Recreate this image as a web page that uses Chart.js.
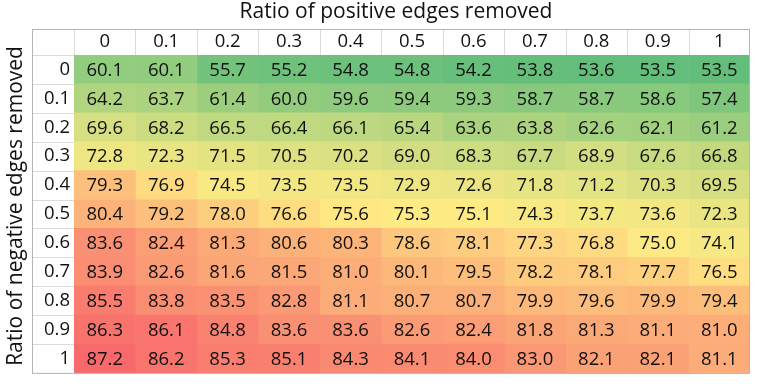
<!DOCTYPE html>
<html>
<head>
<meta charset="utf-8">
<script src="https://cdn.jsdelivr.net/npm/chart.js@4"></script>
<style>
  body { margin: 0; background: #fff; }
</style>
</head>
<body>
<canvas id="heatmap" width="776" height="388"></canvas>
<script>
const colLabels = ['0', '0.1', '0.2', '0.3', '0.4', '0.5', '0.6', '0.7', '0.8', '0.9', '1'];
const rowLabels = ['0', '0.1', '0.2', '0.3', '0.4', '0.5', '0.6', '0.7', '0.8', '0.9', '1'];

// one array per row (ratio of negative edges removed)
const row00 = [60.1, 60.1, 55.7, 55.2, 54.8, 54.8, 54.2, 53.8, 53.6, 53.5, 53.5];
const row01 = [64.2, 63.7, 61.4, 60.0, 59.6, 59.4, 59.3, 58.7, 58.7, 58.6, 57.4];
const row02 = [69.6, 68.2, 66.5, 66.4, 66.1, 65.4, 63.6, 63.8, 62.6, 62.1, 61.2];
const row03 = [72.8, 72.3, 71.5, 70.5, 70.2, 69.0, 68.3, 67.7, 68.9, 67.6, 66.8];
const row04 = [79.3, 76.9, 74.5, 73.5, 73.5, 72.9, 72.6, 71.8, 71.2, 70.3, 69.5];
const row05 = [80.4, 79.2, 78.0, 76.6, 75.6, 75.3, 75.1, 74.3, 73.7, 73.6, 72.3];
const row06 = [83.6, 82.4, 81.3, 80.6, 80.3, 78.6, 78.1, 77.3, 76.8, 75.0, 74.1];
const row07 = [83.9, 82.6, 81.6, 81.5, 81.0, 80.1, 79.5, 78.2, 78.1, 77.7, 76.5];
const row08 = [85.5, 83.8, 83.5, 82.8, 81.1, 80.7, 80.7, 79.9, 79.6, 79.9, 79.4];
const row09 = [86.3, 86.1, 84.8, 83.6, 83.6, 82.6, 82.4, 81.8, 81.3, 81.1, 81.0];
const row10 = [87.2, 86.2, 85.3, 85.1, 84.3, 84.1, 84.0, 83.0, 82.1, 82.1, 81.1];
const rows = [row00, row01, row02, row03, row04, row05, row06, row07, row08, row09, row10];

const xTitle = 'Ratio of positive edges removed';
const yTitle = 'Ratio of negative edges removed';

const FONT = '"Open Sans", sans-serif';

// Excel style 3 colour scale: min green, median yellow, max red
const allValues = rows.flat().slice().sort((a, b) => a - b);
const vMin = allValues[0];
const vMax = allValues[allValues.length - 1];
const vMid = allValues[Math.floor(allValues.length / 2)];
const cLow = [99, 190, 123];
const cMid = [255, 235, 132];
const cHigh = [248, 105, 107];

function mix(a, b, t) {
    return 'rgb(' + a.map((v, i) => Math.round(v + (b[i] - v) * t)).join(',') + ')';
}

function cellColor(v) {
    if (v <= vMid) return mix(cLow, cMid, (v - vMin) / (vMid - vMin));
    return mix(cMid, cHigh, (v - vMid) / (vMax - vMid));
}

// each dataset is one column, drawn as floating bars [j, j+1] on the x scale
const datasets = colLabels.map((c, j) => ({
    label: c,
    data: rowLabels.map(() => [j, j + 1]),
    values: rows.map(r => r[j]),
    backgroundColor: rows.map(r => cellColor(r[j])),
    borderWidth: 0,
    grouped: false,
    barPercentage: 1,
    categoryPercentage: 1
}));

const HEADER_H = 26;
const LABEL_W = 42;

const tablePlugin = {
    id: 'tablePlugin',
    afterDatasetsDraw(chart) {
        const ctx = chart.ctx;
        const area = chart.chartArea;
        const xs = chart.scales.x;
        const ys = chart.scales.y;
        const left = area.left - LABEL_W;
        const top = area.top - HEADER_H;

        ctx.save();
        // cell values
        ctx.fillStyle = '#111';
        ctx.font = '18.5px ' + FONT;
        ctx.textAlign = 'center';
        ctx.textBaseline = 'middle';
        chart.data.datasets.forEach((ds, j) => {
            chart.getDatasetMeta(j).data.forEach((bar, i) => {
                const p = bar.getCenterPoint();
                ctx.fillText(ds.values[i].toFixed(1), p.x, p.y + 1);
            });
        });

        // header separators
        ctx.strokeStyle = '#dadada';
        ctx.lineWidth = 1;
        ctx.beginPath();
        for (let j = 0; j <= colLabels.length - 1; j++) {
            const x = Math.round(xs.getPixelForValue(j)) + 0.5;
            ctx.moveTo(x, top);
            ctx.lineTo(x, area.top);
        }
        for (let i = 0; i <= rowLabels.length - 1; i++) {
            const y = Math.round((ys.getPixelForValue(i) + ys.getPixelForValue(i - 1)) / 2) + 0.5;
            ctx.moveTo(left, y);
            ctx.lineTo(area.left, y);
        }
        ctx.stroke();

        // outer border
        ctx.strokeStyle = '#b4b4b4';
        ctx.strokeRect(left + 0.5, top + 0.5, area.right - left - 1, area.bottom - top);

        // axis titles
        ctx.fillStyle = '#111';
        ctx.font = '21px ' + FONT;
        ctx.textAlign = 'center';
        ctx.textBaseline = 'middle';
        ctx.fillText(xTitle, (left + area.right) / 2 + 5, 12);
        ctx.translate(16, (top + area.bottom) / 2 + 5);
        ctx.rotate(-Math.PI / 2);
        ctx.fillText(yTitle, 0, 0);
        ctx.restore();
    }
};

new Chart(document.getElementById('heatmap'), {
    type: 'bar',
    data: {
        labels: rowLabels,
        datasets: datasets
    },
    options: {
        indexAxis: 'y',
        responsive: false,
        animation: false,
        devicePixelRatio: 1,
        layout: {
            padding: { left: 0, top: 0, right: 26, bottom: 13 }
        },
        plugins: {
            legend: { display: false },
            tooltip: { enabled: false }
        },
        scales: {
            x: {
                type: 'linear',
                position: 'top',
                min: 0,
                max: colLabels.length,
                grid: { display: false, drawTicks: false },
                border: { display: false },
                afterBuildTicks: function (axis) {
                    axis.ticks = colLabels.map((c, j) => ({ value: j + 0.5 }));
                },
                afterFit: function (axis) {
                    axis.height = 55;
                },
                ticks: {
                    autoSkip: false,
                    maxRotation: 0,
                    padding: 2,
                    color: '#111',
                    font: { family: FONT, size: 18.5 },
                    callback: function (value) {
                        return colLabels[Math.floor(value)];
                    }
                }
            },
            y: {
                type: 'category',
                grid: { display: false, drawTicks: false },
                border: { display: false },
                afterFit: function (axis) {
                    axis.width = 74;
                },
                ticks: {
                    padding: 4,
                    color: '#111',
                    font: { family: FONT, size: 18.5 }
                }
            }
        }
    },
    plugins: [tablePlugin]
});
</script>
</body>
</html>
